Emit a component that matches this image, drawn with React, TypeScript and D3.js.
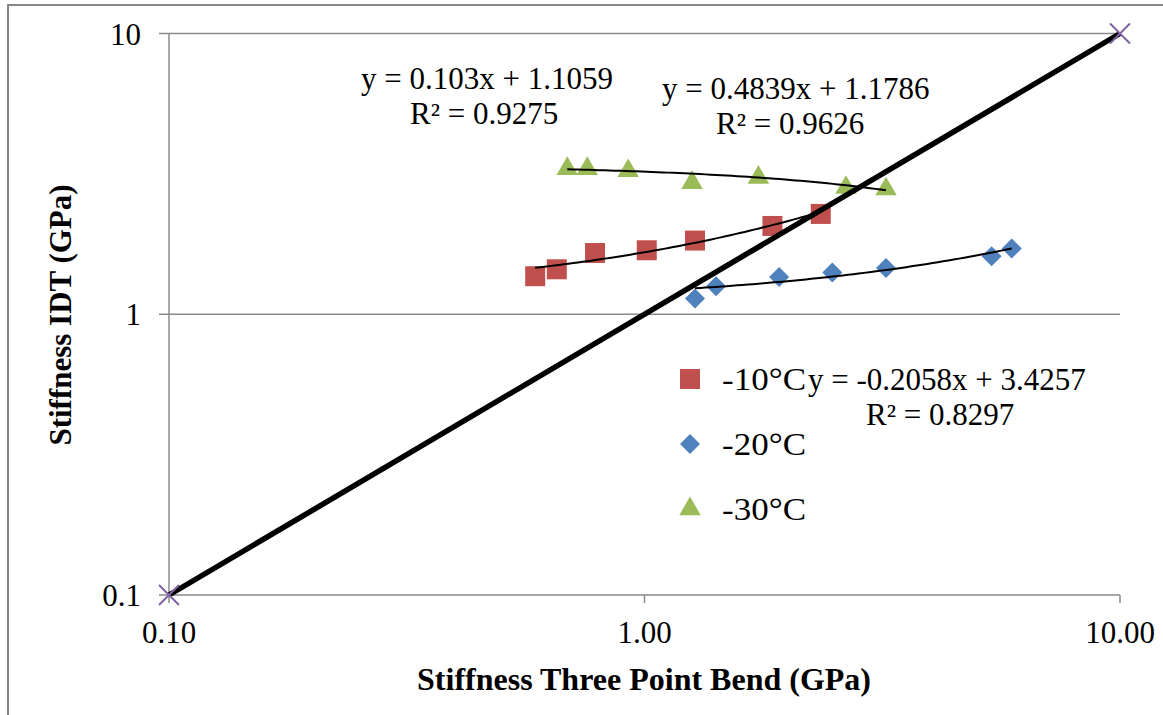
import React, { useEffect, useRef } from "react";
import * as d3 from "d3";

// readings from the picture
const tenX = [0.589, 0.654, 0.787, 1.011, 1.277, 1.858, 2.348];
const tenY = [1.366, 1.446, 1.653, 1.69, 1.83, 2.063, 2.277];
const twentyX = [1.277, 1.414, 1.919, 2.483, 3.22, 5.37, 5.92];
const twentyY = [1.137, 1.258, 1.358, 1.408, 1.462, 1.609, 1.714];
const thirtyX = [0.688, 0.758, 0.924, 1.259, 1.736, 2.653, 3.22];
const thirtyY = [3.3, 3.3, 3.24, 2.94, 3.07, 2.825, 2.79];
const equalityLine = [0.1, 10];

const xTicks = [0.1, 1, 10];
const yTicks = [0.1, 1, 10];
const xTickLabels = ["0.10", "1.00", "10.00"];
const yTickLabels = ["0.1", "1", "10"];

// trend line fits shown on the chart: [slope, intercept]
const tenFit = [0.4839, 1.1786];
const twentyFit = [0.103, 1.1059];
const thirtyFit = [-0.2058, 3.4257];

const legendNames = ["-10°C", "-20°C", "-30°C"];

const W = 1163,
  H = 715;
const FONT = "'Liberation Serif', 'Times New Roman', serif";

const App = () => {
  const ref = useRef(null);

  useEffect(() => {
    const svg = d3.select(ref.current);
    svg.selectAll("*").remove();

    const x = d3.scaleLog().domain([0.1, 10]).range([169, 1120]);
    const y = d3.scaleLog().domain([0.1, 10]).range([595, 33.5]);

    // outer chart frame (only left/top visible)
    svg
      .append("rect")
      .attr("x", 8)
      .attr("y", 5)
      .attr("width", W + 20)
      .attr("height", H + 20)
      .attr("fill", "white")
      .attr("stroke", "#878787")
      .attr("stroke-width", 2);

    const grid = svg.append("g");
    grid
      .selectAll("line.h")
      .data(yTicks)
      .join("line")
      .attr("class", "h")
      .attr("x1", 159)
      .attr("x2", x(10))
      .attr("y1", (d) => y(d))
      .attr("y2", (d) => y(d))
      .attr("stroke", "#8a8a8a")
      .attr("stroke-width", 1.5);
    grid
      .append("line")
      .attr("x1", x(0.1))
      .attr("x2", x(0.1))
      .attr("y1", y(10))
      .attr("y2", y(0.1) + 8)
      .attr("stroke", "#8a8a8a")
      .attr("stroke-width", 1.5);
    grid
      .selectAll("line.xt")
      .data(xTicks.slice(1))
      .join("line")
      .attr("class", "xt")
      .attr("x1", (d) => x(d))
      .attr("x2", (d) => x(d))
      .attr("y1", y(0.1))
      .attr("y2", y(0.1) + 8)
      .attr("stroke", "#8a8a8a")
      .attr("stroke-width", 1.5);

    svg
      .append("g")
      .selectAll("text")
      .data(yTicks)
      .join("text")
      .attr("x", 141)
      .attr("y", (d) => y(d) + 11)
      .attr("text-anchor", "end")
      .attr("font-family", FONT)
      .attr("font-size", 31)
      .text((d, i) => yTickLabels[i]);

    svg
      .append("g")
      .selectAll("text")
      .data(xTicks)
      .join("text")
      .attr("x", (d) => x(d))
      .attr("y", 643)
      .attr("text-anchor", "middle")
      .attr("font-family", FONT)
      .attr("font-size", 31)
      .text((d, i) => xTickLabels[i]);

    svg
      .append("text")
      .attr("x", 644)
      .attr("y", 690)
      .attr("text-anchor", "middle")
      .attr("font-family", FONT)
      .attr("font-weight", "bold")
      .attr("font-size", 32)
      .text("Stiffness Three Point Bend (GPa)");

    svg
      .append("text")
      .attr("transform", "translate(71,315) rotate(-90)")
      .attr("text-anchor", "middle")
      .attr("font-family", FONT)
      .attr("font-weight", "bold")
      .attr("font-size", 31)
      .text("Stiffness IDT (GPa)");

    const sq = d3.symbol().type(d3.symbolSquare).size(400);
    const dia = d3.symbol().type(d3.symbolSquare).size(200);
    const tri = d3.symbol().type(d3.symbolTriangle).size(200);

    const drawSeries = (xs, ys, sym, color, rot) => {
      svg
        .append("g")
        .selectAll("path")
        .data(xs)
        .join("path")
        .attr("d", sym)
        .attr("fill", color)
        .attr(
          "transform",
          (d, i) => `translate(${x(d)},${y(ys[i])}) rotate(${rot})`
        );
    };
    drawSeries(tenX, tenY, sq, "#C0504D", 0);
    drawSeries(twentyX, twentyY, dia, "#4F81BD", 45);
    drawSeries(thirtyX, thirtyY, tri, "#9BBB59", 0);

    // 1:1 line
    const line = d3
      .line()
      .x((d) => x(d[0]))
      .y((d) => y(d[1]));
    svg
      .append("path")
      .attr("d", line(equalityLine.map((v) => [v, v])))
      .attr("stroke", "black")
      .attr("stroke-width", 5.5)
      .attr("fill", "none");
    svg
      .append("g")
      .selectAll("path")
      .data(equalityLine)
      .join("path")
      .attr("d", "M-10,-10L10,10M-10,10L10,-10")
      .attr("transform", (d) => `translate(${x(d)},${y(d)})`)
      .attr("stroke", "#8064A2")
      .attr("stroke-width", 2)
      .attr("fill", "none");

    // trend lines (linear fit drawn on log axes)
    const trend = (xs, fit) => {
      const lo = d3.min(xs),
        hi = d3.max(xs);
      const pts = d3
        .range(0, 61)
        .map((k) => lo * Math.pow(hi / lo, k / 60))
        .map((v) => [v, fit[0] * v + fit[1]]);
      svg
        .append("path")
        .attr("d", line(pts))
        .attr("stroke", "black")
        .attr("stroke-width", 2)
        .attr("fill", "none");
    };
    trend(tenX, tenFit);
    trend(twentyX, twentyFit);
    trend(thirtyX, thirtyFit);

    // legend
    const leg = svg.append("g");
    const legSyms = [
      [sq, "#C0504D", 0],
      [dia, "#4F81BD", 45],
      [tri, "#9BBB59", 0],
    ];
    legendNames.forEach((name, i) => {
      const cy = 379 + i * 65;
      leg
        .append("path")
        .attr("d", legSyms[i][0])
        .attr("fill", legSyms[i][1])
        .attr("transform", `translate(690,${cy}) rotate(${legSyms[i][2]})`);
      leg
        .append("text")
        .attr("x", 722)
        .attr("y", cy + 11)
        .attr("font-family", FONT)
        .attr("font-size", 31)
        .attr("textLength", 84)
        .attr("lengthAdjust", "spacingAndGlyphs")
        .text(name);
    });

    // equation labels
    const eqs = [
      [361, 89, "y = 0.103x + 1.1059"],
      [410, 124, "R² = 0.9275"],
      [662, 99, "y = 0.4839x + 1.1786"],
      [716, 134, "R² = 0.9626"],
      [808, 390, "y = -0.2058x + 3.4257"],
      [866, 425, "R² = 0.8297"],
    ];
    svg
      .append("g")
      .selectAll("text")
      .data(eqs)
      .join("text")
      .attr("x", (d) => d[0])
      .attr("y", (d) => d[1])
      .attr("font-family", FONT)
      .attr("font-size", 31)
      .text((d) => d[2]);
  }, []);

  return (
    <svg
      ref={ref}
      width={W}
      height={H}
      style={{ position: "absolute", left: 0, top: 0, background: "white" }}
    ></svg>
  );
};

export default App;
